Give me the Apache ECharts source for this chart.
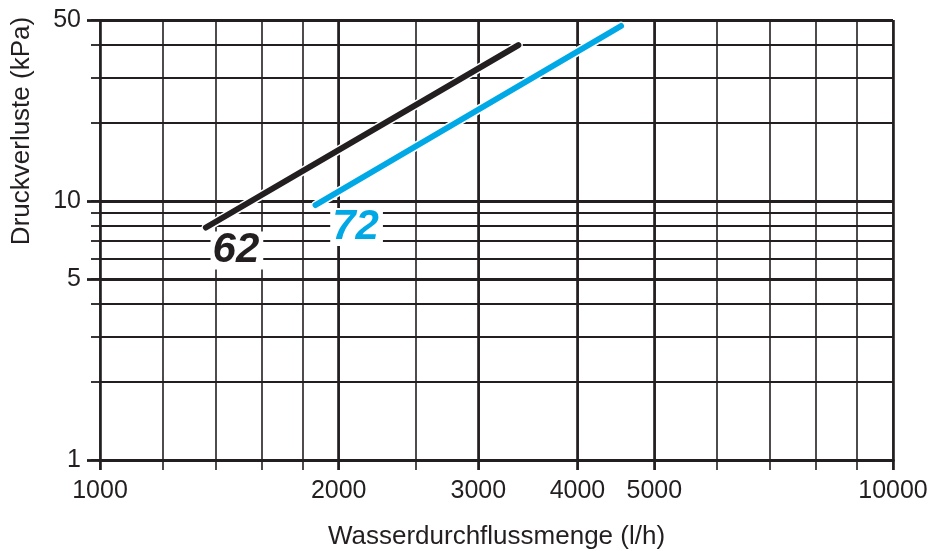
<!DOCTYPE html>
<html>
<head>
<meta charset="utf-8">
<script src="https://cdn.jsdelivr.net/npm/echarts@6/dist/echarts.min.js"></script>
<style>html,body{margin:0;padding:0;background:#fff}#c{width:932px;height:551px}</style>
</head>
<body>
<div id="c"></div>
<script>
// Data
const flow62 = [1360, 3370];
const dp62 = [7.9, 40];
const flow72 = [1870, 4540];
const dp72 = [9.65, 47.4];
const seriesNames = ['62', '72'];

const xThinTicks = [1000, 1200, 1400, 1600, 1800, 2000, 2500, 3000, 4000, 5000, 6000, 7000, 8000, 9000, 10000];
const xThickTicks = [1000, 2000, 3000, 4000, 5000, 10000];
const xLabels = [1000, 2000, 3000, 4000, 5000, 10000];
const yThinTicks = [1, 2, 3, 4, 5, 6, 7, 8, 9, 10, 20, 30, 40, 50];
const yThickTicks = [1, 5, 10, 50];
const yLabels = [1, 5, 10, 50];

const xName = 'Wasserdurchflussmenge (l/h)';
const yName = 'Druckverluste (kPa)';

const INK = '#231f20';
const BLUE = '#00a9e6';
const FONT = "'Liberation Sans', Arial, Helvetica, sans-serif";

function pairs(xs, ys) { return xs.map((x, i) => [x, ys[i]]); }

const chart = echarts.init(document.getElementById('c'), null, { renderer: 'canvas' });

function xAxisDef(ticks, width, labels, tickLen) {
  return {
    type: 'log', logBase: 10, min: 1000, max: 10000, position: 'bottom',
    axisLine: { show: true, onZero: false, lineStyle: { color: INK, width: 3 } },
    axisTick: { show: true, customValues: ticks, length: tickLen, lineStyle: { color: INK, width: width } },
    axisLabel: labels ? {
      show: true, customValues: labels, color: INK, fontSize: 25, fontFamily: FONT, margin: 19,
      formatter: v => String(v)
    } : { show: false },
    splitLine: { show: true, lineStyle: { color: INK, width: width } },
    minorSplitLine: { show: false }
  };
}
function yAxisDef(ticks, width, labels, tickLen) {
  return {
    type: 'log', logBase: 10, min: 1, max: 50, position: 'left',
    axisLine: { show: false },
    axisTick: { show: true, customValues: ticks, length: tickLen, lineStyle: { color: INK, width: width } },
    axisLabel: labels ? {
      show: true, customValues: labels, color: INK, fontSize: 25, fontFamily: FONT, margin: 19,
      formatter: v => String(v)
    } : { show: false },
    splitLine: { show: true, lineStyle: { color: INK, width: width } },
    minorSplitLine: { show: false }
  };
}

const xAxes = [xAxisDef(xThinTicks, 1.6, null, 10), xAxisDef(xThickTicks, 2.6, xLabels, 10)];
xAxes[1].name = xName;
xAxes[1].nameLocation = 'middle';
xAxes[1].nameGap = 64;
xAxes[1].nameTextStyle = { color: INK, fontSize: 26, fontFamily: FONT, verticalAlign: 'top' };

const yAxes = [yAxisDef(yThinTicks, 1.8, null, 9), yAxisDef(yThickTicks, 2.8, yLabels, 13)];

function lineSeries(name, xs, ys, color, labelOffset) {
  const data = pairs(xs, ys);
  return [
    {
      type: 'line', name: name + '-halo', data: data, xAxisIndex: 0, yAxisIndex: 0,
      symbol: 'none', silent: true, z: 3,
      lineStyle: { color: '#ffffff', width: 9, cap: 'round' }
    },
    {
      type: 'line', name: name, data: data, xAxisIndex: 0, yAxisIndex: 0,
      symbol: 'none', z: 4,
      lineStyle: { color: color, width: 6, cap: 'round' },
      markPoint: {
        symbol: 'circle', symbolSize: 2,
        itemStyle: { color: 'rgba(0,0,0,0)' },
        data: [{
          coord: data[0],
          label: {
            show: true, formatter: name, position: 'inside', offset: labelOffset,
            color: color, fontSize: 42, fontWeight: 'bold', fontStyle: 'italic', fontFamily: FONT,
            backgroundColor: '#ffffff', padding: [0, 4, 0, 2], lineHeight: 38
          }
        }]
      }
    }
  ];
}

const option = {
  animation: false,
  backgroundColor: '#ffffff',
  grid: { left: 100, right: 39, top: 20, bottom: 91, containLabel: false, outerBoundsMode: 'none' },
  xAxis: xAxes,
  yAxis: yAxes,
  series: [].concat(
    lineSeries(seriesNames[0], flow62, dp62, INK, [31, 23]),
    lineSeries(seriesNames[1], flow72, dp72, BLUE, [41, 22])
  ),
  graphic: [{
    type: 'text', x: 22, y: 131, rotation: Math.PI / 2,
    style: { text: yName, fill: INK, font: "26px " + FONT, textAlign: 'center', textVerticalAlign: 'middle' }
  }]
};
chart.setOption(option);
</script>
</body>
</html>
